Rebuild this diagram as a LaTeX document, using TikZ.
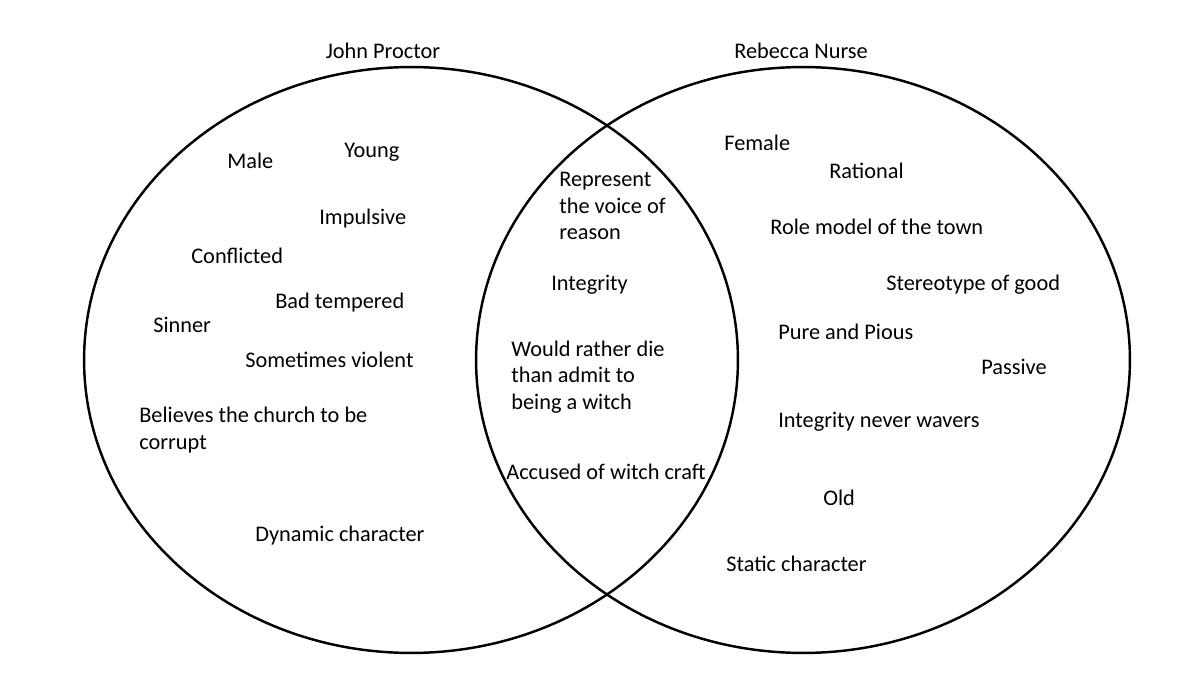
\documentclass[tikz,border=0pt]{standalone}
\usepackage{fontspec}
\setmainfont{Carlito}
\usetikzlibrary{shapes.geometric,positioning}

\begin{document}
\begin{tikzpicture}[x=0.02cm,y=-0.02cm,
  set/.style={ellipse,draw=black,line width=1.4pt,inner sep=0pt,minimum width=13.08cm,minimum height=11.72cm},
  trait/.style={anchor=west,inner sep=0pt,align=left,font=\fontsize{12.7}{15.1}\selectfont}]
\useasboundingbox (0,0) rectangle (1200,675);

\node[set](L) at (411,360) {};
\node[set](R) at (803,360) {};
\node[trait,anchor=center](JP) at (383,51) {John Proctor};
\node[trait,anchor=center](RN) at (801,51) {Rebecca Nurse};

% John Proctor only
\node[trait](1) at (227,161) {Male};
\node[trait](2) at (344,152) {Young};
\node[trait](3) at (319,219) {Impulsive};
\node[trait](4) at (191,256) {Conflicted};
\node[trait](5) at (275,303) {Bad tempered};
\node[trait](6) at (153,325) {Sinner};
\node[trait](7) at (245,360) {Sometimes violent};
\node[trait](8) at (139,430) {Believes the church to be\\corrupt};
\node[trait](9) at (255,536) {Dynamic character};

% both
\node[trait](10) at (559,206) {Represent\\the voice of\\reason};
\node[trait](11) at (551,285) {Integrity};
\node[trait](12) at (511,377) {Would rather die\\than admit to\\being a witch};
\node[trait](13) at (506,472) {Accused of witch craft};

% Rebecca Nurse only
\node[trait](14) at (724,143) {Female};
\node[trait](15) at (829,171) {Rational};
\node[trait](16) at (770,227) {Role model of the town};
\node[trait](17) at (886,285) {Stereotype of good};
\node[trait](18) at (778,332) {Pure and Pious};
\node[trait](19) at (981,367) {Passive};
\node[trait](20) at (778,422) {Integrity never wavers};
\node[trait](21) at (823,498) {Old};
\node[trait](22) at (726,564) {Static character};
\end{tikzpicture}
\end{document}
